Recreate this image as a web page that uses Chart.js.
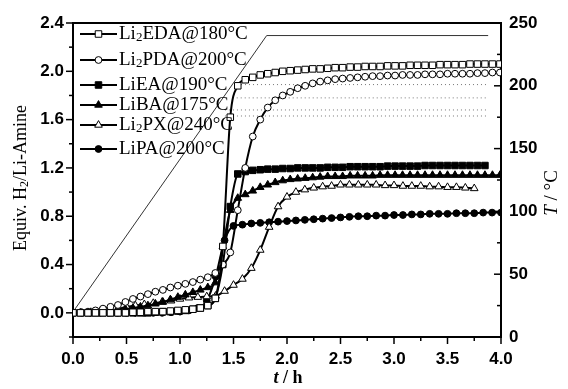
<!DOCTYPE html>
<html>
<head>
<meta charset="utf-8">
<script src="https://cdn.jsdelivr.net/npm/chart.js@4.4.1/dist/chart.umd.min.js"></script>
<style>
  html, body { margin: 0; padding: 0; background: #fff; }
  #chart { display: block; }
</style>
</head>
<body>
<canvas id="chart" width="568" height="389"></canvas>
<script>
// logging intervals (h): the amine series were sampled a bit faster than PX / PA
const STEP_A = 0.07;
const STEP_B = 1 / 12;

const seriesNames = ['Li₂EDA@180°C', 'Li₂PDA@200°C', 'LiEA@190°C', 'LiBA@175°C', 'Li₂PX@240°C', 'LiPA@200°C'];

// equiv. H2 per Li-amine, sampled every STEP_A
const li2edaValues = [
  0, 0, 0, 0, 0, 0, 0, 0, 0.005, 0.005,
  0.01, 0.01, 0.01, 0.015, 0.02, 0.025, 0.03, 0.04, 0.06, 0.12,
  0.55, 1.62, 1.88, 1.93, 1.95, 1.97, 1.98, 1.99, 2.0, 2.005,
  2.01, 2.015, 2.02, 2.02, 2.025, 2.03, 2.03, 2.035, 2.035, 2.04,
  2.04, 2.04, 2.045, 2.045, 2.045, 2.05, 2.05, 2.05, 2.05, 2.055,
  2.055, 2.055, 2.055, 2.06, 2.06, 2.06, 2.06, 2.06
];
const li2pdaValues = [
  0, 0.005, 0.01, 0.02, 0.035, 0.05, 0.065, 0.09, 0.115, 0.135,
  0.155, 0.175, 0.19, 0.21, 0.225, 0.24, 0.255, 0.275, 0.295, 0.33,
  0.4, 0.5, 0.85, 1.2, 1.46, 1.6, 1.7, 1.76, 1.8, 1.83,
  1.86, 1.88, 1.9, 1.915, 1.925, 1.935, 1.94, 1.945, 1.95, 1.955,
  1.96, 1.96, 1.965, 1.965, 1.97, 1.97, 1.97, 1.975, 1.975, 1.975,
  1.98, 1.98, 1.98, 1.98, 1.985, 1.985, 1.99, 1.99
];
const lieaValues = [
  0, 0, 0, 0, 0, 0, 0, 0, 0, 0,
  0, 0.005, 0.01, 0.01, 0.015, 0.02, 0.03, 0.04, 0.06, 0.12,
  0.4, 0.88, 1.15, 1.17, 1.18, 1.185, 1.19, 1.19, 1.195, 1.195,
  1.2, 1.2, 1.2, 1.2, 1.205, 1.205, 1.205, 1.21, 1.21, 1.21,
  1.21, 1.21, 1.215, 1.215, 1.215, 1.215, 1.215, 1.22, 1.22, 1.22,
  1.22, 1.22, 1.22, 1.22, 1.22, 1.22
];
const libaValues = [
  0, 0, 0, 0, 0.005, 0.01, 0.02, 0.03, 0.04, 0.05,
  0.06, 0.075, 0.09, 0.11, 0.13, 0.15, 0.17, 0.19, 0.21, 0.25,
  0.55, 0.85, 0.95, 0.98, 1.01, 1.04, 1.06, 1.08, 1.095, 1.105,
  1.11, 1.115, 1.12, 1.125, 1.13, 1.13, 1.13, 1.135, 1.135, 1.135,
  1.135, 1.14, 1.14, 1.14, 1.14, 1.14, 1.14, 1.14, 1.14, 1.14,
  1.14, 1.14, 1.14, 1.14, 1.14, 1.14, 1.14, 1.14
];
// sampled every STEP_B
const li2pxValues = [
  0, 0, 0.005, 0.01, 0.02, 0.03, 0.05, 0.06, 0.07, 0.08,
  0.09, 0.1, 0.115, 0.125, 0.13, 0.135, 0.14, 0.18, 0.23, 0.28,
  0.37, 0.52, 0.71, 0.88, 0.96, 1.0, 1.02, 1.035, 1.045, 1.05,
  1.06, 1.06, 1.06, 1.06, 1.06, 1.055, 1.055, 1.05, 1.05, 1.05,
  1.045, 1.045, 1.04, 1.04, 1.035, 1.03
];
const lipaValues = [
  0, 0, 0, 0, 0, 0, 0, 0, 0, 0,
  0, 0.005, 0.01, 0.02, 0.04, 0.1, 0.3, 0.6, 0.72, 0.73,
  0.74, 0.745, 0.75, 0.755, 0.76, 0.765, 0.77, 0.775, 0.78, 0.785,
  0.79, 0.795, 0.8, 0.8, 0.805, 0.805, 0.81, 0.81, 0.815, 0.815,
  0.82, 0.82, 0.82, 0.825, 0.825, 0.825, 0.83, 0.83, 0.83
];

// furnace temperature programme (right axis)
const tempTimes = [0, 1.81, 3.88];
const tempValues = [20, 240, 240];

// dotted reference levels
const refLevels = [1.89, 1.78, 1.68, 1.63];
const refStarts = [1.57, 1.53, 1.42, 1.42];
const refEnd = 3.86;

const xTicks = [0, 0.5, 1, 1.5, 2, 2.5, 3, 3.5, 4];
const yTicks = [0, 0.4, 0.8, 1.2, 1.6, 2.0, 2.4];
const y2Ticks = [0, 50, 100, 150, 200, 250];

const seriesValues = [li2edaValues, li2pdaValues, lieaValues, libaValues, li2pxValues, lipaValues];
const seriesSteps = [STEP_A, STEP_A, STEP_A, STEP_A, STEP_B, STEP_B];
const seriesStyle = [
  { shape: 'rect', r: 4.6, fill: '#fff' },
  { shape: 'circle', r: 3.4, fill: '#fff' },
  { shape: 'rect', r: 4.6, fill: '#000' },
  { shape: 'triangle', r: 4.4, fill: '#000' },
  { shape: 'triangle', r: 4.4, fill: '#fff' },
  { shape: 'circle', r: 3.4, fill: '#000' }
];

const legendRows = [34, 60, 85, 105, 125, 149];
const tickFont = { family: '"Liberation Sans", Arial, sans-serif', size: 17, weight: 'bold' };
const SERIF = '"Liberation Serif", "Times New Roman", serif';

function toPoints(values, step) {
  return values.map((v, i) => ({ x: Math.round(i * step * 10000) / 10000, y: v }));
}

const datasets = seriesValues.map((vals, i) => ({
  label: seriesNames[i],
  data: toPoints(vals, seriesSteps[i]),
  yAxisID: 'y',
  borderColor: '#000',
  borderWidth: 2,
  pointStyle: seriesStyle[i].shape,
  pointRadius: seriesStyle[i].r,
  pointBackgroundColor: seriesStyle[i].fill,
  pointBorderColor: '#000',
  pointBorderWidth: 1,
  cubicInterpolationMode: 'monotone'
}));

refLevels.forEach((lvl, i) => {
  datasets.push({
    label: 'ref' + i,
    data: [{ x: refStarts[i], y: lvl }, { x: refEnd, y: lvl }],
    yAxisID: 'y',
    borderColor: '#777',
    borderWidth: 1,
    borderDash: [1, 3],
    pointRadius: 0
  });
});

datasets.push({
  label: 'T',
  data: tempTimes.map((t, i) => ({ x: t, y: tempValues[i] })),
  yAxisID: 'y2',
  borderColor: '#333',
  borderWidth: 1,
  pointRadius: 0,
  tension: 0
});

function drawMarker(ctx, shape, r, x, y, fill) {
  ctx.beginPath();
  if (shape === 'circle') {
    ctx.arc(x, y, r, 0, Math.PI * 2);
  } else if (shape === 'rect') {
    const s = r * Math.SQRT1_2;
    ctx.rect(x - s, y - s, 2 * s, 2 * s);
  } else {
    for (let k = 0; k < 3; k++) {
      const a = k * 2 * Math.PI / 3;
      const px = x + Math.sin(a) * r, py = y - Math.cos(a) * r;
      if (k === 0) ctx.moveTo(px, py); else ctx.lineTo(px, py);
    }
    ctx.closePath();
  }
  ctx.fillStyle = fill;
  ctx.fill();
  ctx.lineWidth = 1;
  ctx.strokeStyle = '#000';
  ctx.stroke();
}

// turn a string with '₂' into runs with a real lowered subscript
function subRuns(text, font, subFont) {
  const runs = [];
  text.split('₂').forEach((part, i) => {
    if (i > 0) runs.push({ text: '2', font: subFont, dy: 4 });
    if (part) runs.push({ text: part, font: font, dy: 0 });
  });
  return runs;
}

function drawRuns(ctx, runs, x, y, align) {
  let w = 0;
  runs.forEach(r => { ctx.font = r.font; r.w = ctx.measureText(r.text).width; w += r.w; });
  let cx = align === 'center' ? x - w / 2 : x;
  ctx.textBaseline = 'middle';
  ctx.textAlign = 'left';
  runs.forEach(r => {
    ctx.font = r.font;
    ctx.fillText(r.text, cx, y + r.dy);
    cx += r.w;
  });
}

const decorPlugin = {
  id: 'decor',
  afterDraw(chart) {
    const ctx = chart.ctx;
    const { left, right, top, bottom } = chart.chartArea;
    const sx = chart.scales.x, sy = chart.scales.y, sy2 = chart.scales.y2;
    ctx.save();
    ctx.strokeStyle = '#000';
    ctx.fillStyle = '#000';

    // top frame line
    ctx.lineWidth = 2;
    ctx.beginPath();
    ctx.moveTo(left - 1, top);
    ctx.lineTo(right + 1, top);
    ctx.stroke();

    // tick marks: major + minor halfway between
    ctx.lineWidth = 1.5;
    const tick = (x1, y1, x2, y2) => { ctx.beginPath(); ctx.moveTo(x1, y1); ctx.lineTo(x2, y2); ctx.stroke(); };
    xTicks.forEach((v, i) => {
      const px = sx.getPixelForValue(v);
      tick(px, bottom, px, bottom + 7);
      if (i < xTicks.length - 1) {
        const mx = sx.getPixelForValue((v + xTicks[i + 1]) / 2);
        tick(mx, bottom, mx, bottom + 4);
      }
    });
    const yMinor = [-0.2].concat(yTicks.slice(0, -1).map((v, i) => (v + yTicks[i + 1]) / 2));
    yTicks.forEach(v => { const py = sy.getPixelForValue(v); tick(left, py, left - 7, py); });
    yMinor.forEach(v => { const py = sy.getPixelForValue(v); tick(left, py, left - 4, py); });
    y2Ticks.forEach((v, i) => {
      const py = sy2.getPixelForValue(v);
      tick(right, py, right - 7, py);
      if (i < y2Ticks.length - 1) {
        const my = sy2.getPixelForValue((v + y2Ticks[i + 1]) / 2);
        tick(right, my, right - 4, my);
      }
    });

    // legend
    const lf = '19px ' + SERIF, lsf = '13px ' + SERIF;
    seriesNames.forEach((name, i) => {
      const y = legendRows[i];
      ctx.lineWidth = 2;
      ctx.strokeStyle = '#000';
      tick(80, y, 117, y);
      drawMarker(ctx, seriesStyle[i].shape, seriesStyle[i].r, 98.5, y, seriesStyle[i].fill);
      ctx.fillStyle = '#000';
      drawRuns(ctx, subRuns(name, lf, lsf), 119, y, 'left');
    });

    // axis titles
    ctx.fillStyle = '#000';
    ctx.save();
    ctx.translate(21, 178);
    ctx.rotate(-Math.PI / 2);
    drawRuns(ctx, subRuns('Equiv. H₂/Li-Amine', '18px ' + SERIF, '12px ' + SERIF), 0, 0, 'center');
    ctx.restore();

    ctx.save();
    ctx.translate(552, 193);
    ctx.rotate(-Math.PI / 2);
    drawRuns(ctx, [
      { text: 'T', font: 'italic 19px ' + SERIF, dy: 0 },
      { text: ' / °C', font: '19px ' + SERIF, dy: 0 }
    ], 0, 0, 'center');
    ctx.restore();

    drawRuns(ctx, [
      { text: 't', font: 'italic bold 18px ' + SERIF, dy: 0 },
      { text: ' / h', font: 'bold 18px ' + SERIF, dy: 0 }
    ], 288, 378, 'center');

    ctx.restore();
  }
};

new Chart(document.getElementById('chart').getContext('2d'), {
  type: 'line',
  data: { datasets: datasets },
  plugins: [decorPlugin],
  options: {
    responsive: false,
    animation: false,
    devicePixelRatio: 1,
    layout: { padding: { top: 23, left: 0, right: 0, bottom: 0 } },
    plugins: { legend: { display: false }, tooltip: { enabled: false } },
    scales: {
      x: {
        type: 'linear',
        min: 0,
        max: 4,
        afterBuildTicks: s => { s.ticks = xTicks.map(v => ({ value: v })); },
        afterFit: s => { s.height = 52; },
        ticks: { font: tickFont, color: '#000', padding: 12, maxRotation: 0, autoSkip: false, callback: v => v.toFixed(1) },
        grid: { display: false, drawTicks: false },
        border: { display: true, color: '#000', width: 2 }
      },
      y: {
        position: 'left',
        min: -0.2,
        max: 2.4,
        afterBuildTicks: s => { s.ticks = yTicks.map(v => ({ value: v })); },
        afterFit: s => { s.width = 73; },
        ticks: { font: tickFont, color: '#000', padding: 9, callback: v => v.toFixed(1) },
        grid: { display: false, drawTicks: false },
        border: { display: true, color: '#000', width: 2 }
      },
      y2: {
        position: 'right',
        min: 0,
        max: 250,
        afterBuildTicks: s => { s.ticks = y2Ticks.map(v => ({ value: v })); },
        afterFit: s => { s.width = 67; },
        ticks: { font: tickFont, color: '#000', padding: 8, callback: v => String(v) },
        grid: { display: false, drawTicks: false },
        border: { display: true, color: '#000', width: 2 }
      }
    }
  }
});
</script>
</body>
</html>
